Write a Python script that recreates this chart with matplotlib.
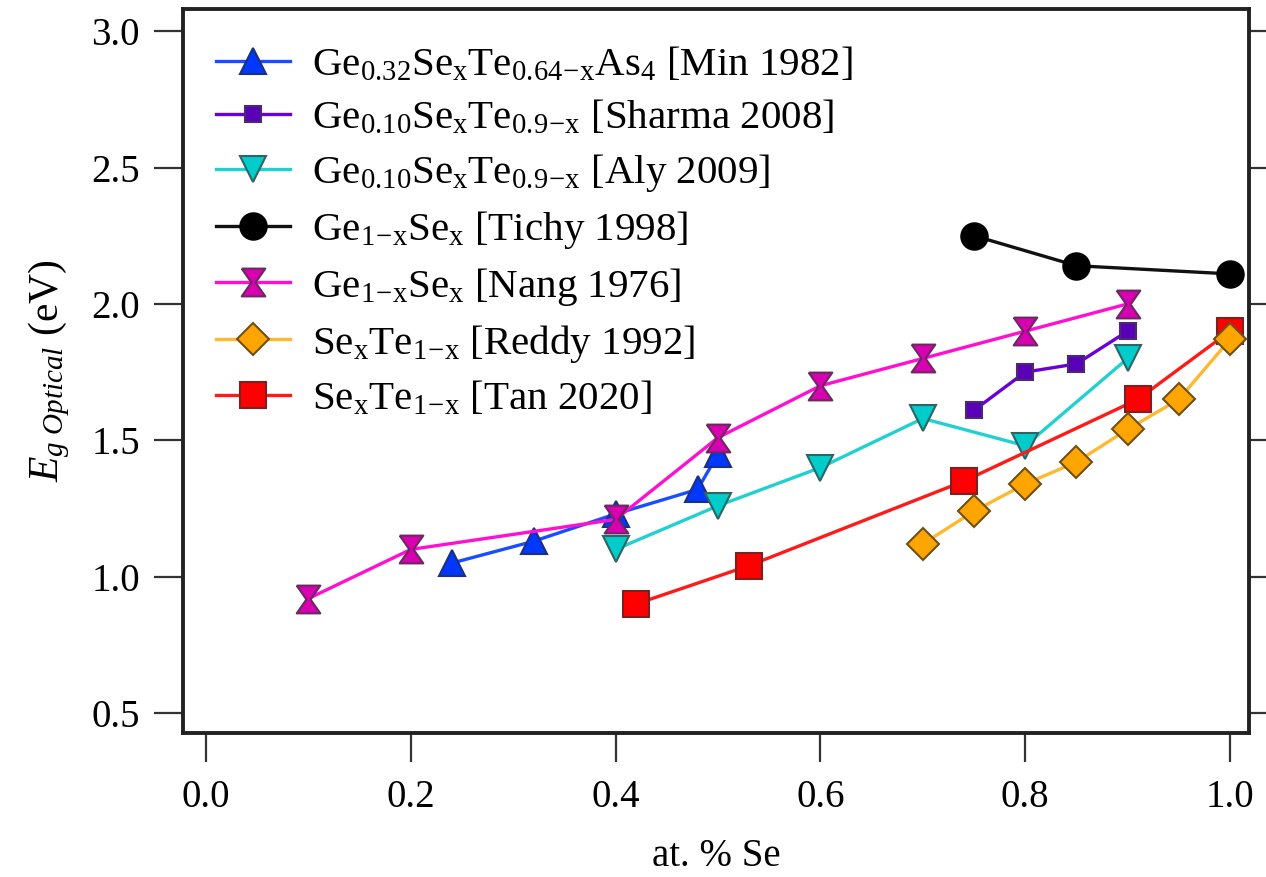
import matplotlib
matplotlib.use('Agg')
import matplotlib.pyplot as plt

plt.rcParams['font.family'] = ['Liberation Serif', 'DejaVu Serif']
plt.rcParams['mathtext.fontset'] = 'custom'
plt.rcParams['mathtext.rm'] = 'Liberation Serif'
plt.rcParams['mathtext.it'] = 'Liberation Serif:italic'

# data
min_x = [0.24, 0.32, 0.40, 0.48, 0.50]
min_y = [1.05, 1.13, 1.23, 1.32, 1.45]

sharma_x = [0.75, 0.80, 0.85, 0.90]
sharma_y = [1.61, 1.75, 1.78, 1.90]

aly_x = [0.40, 0.50, 0.60, 0.70, 0.80, 0.90]
aly_y = [1.10, 1.26, 1.40, 1.58, 1.48, 1.80]

tichy_x = [0.75, 0.85, 1.00]
tichy_y = [2.25, 2.14, 2.11]

nang_x = [0.10, 0.20, 0.40, 0.50, 0.60, 0.70, 0.80, 0.90]
nang_y = [0.92, 1.10, 1.21, 1.51, 1.70, 1.80, 1.90, 2.00]

reddy_x = [0.70, 0.75, 0.80, 0.85, 0.90, 0.95, 1.00]
reddy_y = [1.12, 1.24, 1.34, 1.42, 1.54, 1.65, 1.87]

tan_x = [0.42, 0.53, 0.74, 0.91, 1.00]
tan_y = [0.90, 1.04, 1.35, 1.65, 1.90]

labels = [
    r'Ge$_{\mathrm{0.32}}$Se$_{\mathrm{x}}$Te$_{\mathrm{0.64\!-\!x}}$As$_{\mathrm{4}}$ [Min 1982]',
    r'Ge$_{\mathrm{0.10}}$Se$_{\mathrm{x}}$Te$_{\mathrm{0.9\!-\!x}}$ [Sharma 2008]',
    r'Ge$_{\mathrm{0.10}}$Se$_{\mathrm{x}}$Te$_{\mathrm{0.9\!-\!x}}$ [Aly 2009]',
    r'Ge$_{\mathrm{1\!-\!x}}$Se$_{\mathrm{x}}$ [Tichy 1998]',
    r'Ge$_{\mathrm{1\!-\!x}}$Se$_{\mathrm{x}}$ [Nang 1976]',
    r'Se$_{\mathrm{x}}$Te$_{\mathrm{1\!-\!x}}$ [Reddy 1992]',
    r'Se$_{\mathrm{x}}$Te$_{\mathrm{1\!-\!x}}$ [Tan 2020]',
]

# hourglass marker: wide bars top and bottom, narrow waist
hourglass = [(-0.85, 1), (0.85, 1), (0.15, 0), (0.85, -1), (-0.85, -1), (-0.15, 0), (-0.85, 1)]

fig = plt.figure(figsize=(12.66, 8.77), dpi=100)
ax = fig.add_axes([0.1446, 0.1642, 0.842, 0.8255])

lw = 2.4
ax.plot(min_x, min_y, '-^', color='#1a4dff', mfc='#0038ff', mec='#1c2f80',
        ms=19, mew=1.5, lw=lw, label=labels[0], zorder=3)
ax.plot(sharma_x, sharma_y, '-s', color='#6a00d8', mfc='#5a00b8', mec='#4a2a70',
        ms=11, mew=1.5, lw=lw, label=labels[1], zorder=3)
ax.plot(aly_x, aly_y, '-v', color='#22d0d0', mfc='#00cccc', mec='#2e6464',
        ms=19, mew=1.5, lw=lw, label=labels[2], zorder=3)
ax.plot(tichy_x, tichy_y, '-o', color='#111111', mfc='black', mec='black',
        ms=19, mew=1.5, lw=lw, label=labels[3], zorder=3)
ax.plot(nang_x, nang_y, '-', marker=hourglass, color='#ff10d0', mfc='#d800b0',
        mec='#6a2a60', ms=20, mew=1.5, lw=lw, label=labels[4], zorder=4)
ax.plot(reddy_x, reddy_y, '-D', color='#ffb830', mfc='#ffa500', mec='#6e5018',
        ms=16, mew=1.5, lw=lw, label=labels[5], zorder=3.5)
ax.plot(tan_x, tan_y, '-s', color='#ff1a1a', mfc='#ff0000', mec='#7a2222',
        ms=19, mew=1.5, lw=lw, label=labels[6], zorder=3)

ax.set_xlim(-0.0225, 1.0186)
ax.set_ylim(0.427, 3.081)
ax.set_xticks([0.0, 0.2, 0.4, 0.6, 0.8, 1.0])
ax.set_yticks([0.5, 1.0, 1.5, 2.0, 2.5, 3.0])
ax.set_xticklabels(['0.0', '0.2', '0.4', '0.6', '0.8', '1.0'])
ax.set_yticklabels(['0.5', '1.0', '1.5', '2.0', '2.5', '3.0'])

for s in ax.spines.values():
    s.set_linewidth(2.8)
    s.set_color('#222222')
ax.tick_params(direction='out', length=21, width=1.6, labelsize=28,
               top=False, right=True, color='#333333')
ax.tick_params(axis='x', pad=12)
ax.tick_params(axis='y', pad=10)

ax.set_xlabel('at. % Se', fontsize=28, labelpad=16)
ax.set_ylabel(r'$E_{g\ Optical}$ (eV)', fontsize=30, labelpad=14)

ax.legend(loc='upper left', bbox_to_anchor=(0.0, 0.995), frameon=False,
          fontsize=29.5, handlelength=1.8, handletextpad=0.55, labelspacing=0.36,
          borderaxespad=0.4, numpoints=1)

fig.savefig('out.png', dpi=100)
